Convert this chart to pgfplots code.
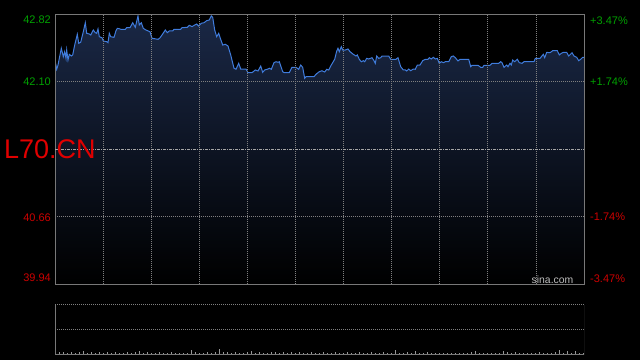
\documentclass[border=0pt]{standalone}
\usepackage{pgfplots}
\pgfplotsset{compat=1.18}
\usepackage{fontspec}
\setmainfont{Liberation Sans}
\definecolor{linecol}{RGB}{64,124,220}
\definecolor{filltop}{RGB}{26,40,70}
\definecolor{gridcol}{RGB}{128,128,128}
\definecolor{midcol}{RGB}{165,165,165}
\definecolor{framecol}{RGB}{120,120,120}
\definecolor{upgreen}{RGB}{0,160,0}
\definecolor{downred}{RGB}{204,0,0}
\definecolor{titlered}{RGB}{224,0,0}
\definecolor{volcol}{RGB}{150,150,150}

\pgfplotstableread{
x y
0 42.329
1.7 42.230
3 42.276
6.3 42.454
8.3 42.365
9.7 42.418
11 42.347
11.7 42.436
13 42.329
14.3 42.390
16.3 42.372
17.7 42.383
19.7 42.489
22.3 42.603
23.7 42.507
25.7 42.518
28.3 42.631
30.3 42.727
31.7 42.614
34.3 42.607
35.7 42.596
38.3 42.649
40.3 42.621
41.7 42.614
43 42.660
44.3 42.578
47 42.567
48.3 42.532
51.7 42.525
53 42.514
54.3 42.614
55.7 42.578
59 42.571
61 42.642
62.3 42.667
64.3 42.663
65.7 42.657
70.3 42.657
71.7 42.674
75 42.674
77.7 42.727
80.3 42.678
83 42.799
84.3 42.703
86.3 42.727
88.3 42.667
91 42.649
95 42.631
97 42.561
103 42.550
105 42.566
107.7 42.607
110.3 42.649
112.3 42.621
114.3 42.639
117.7 42.639
119 42.657
125.7 42.657
127 42.674
132.3 42.678
134.3 42.699
137 42.685
139.7 42.703
141.7 42.713
143.7 42.692
146.3 42.721
149 42.727
151.7 42.749
154.3 42.756
156.3 42.799
157.7 42.785
159.7 42.649
161.7 42.578
163.7 42.614
165 42.571
167.7 42.489
170.3 42.497
173 42.479
175.7 42.383
179 42.241
181 42.230
183.7 42.294
185.7 42.233
191 42.233
193 42.194
197 42.194
200.3 42.223
203 42.212
205.7 42.265
207.7 42.198
209.7 42.223
213 42.233
214.3 42.241
216.3 42.230
219 42.301
221 42.311
223 42.305
224.3 42.311
227.7 42.205
229 42.194
234.3 42.194
237 42.251
241 42.251
243.7 42.230
245.7 42.276
247.7 42.251
249.7 42.134
251 42.151
259 42.151
261 42.177
264.3 42.205
267 42.215
269.7 42.201
271.7 42.230
273.7 42.223
276.3 42.276
279.7 42.337
281.7 42.425
283 42.454
284.3 42.418
286.3 42.471
287.7 42.436
290.3 42.436
293 42.447
295 42.418
298.3 42.390
301 42.372
302.3 42.383
304.3 42.337
306.3 42.311
308.3 42.322
309.7 42.311
311.7 42.347
313.7 42.340
316.3 42.351
317 42.354
319 42.322
320.3 42.294
321.7 42.372
323.7 42.347
325.7 42.354
327 42.372
333.7 42.372
335.7 42.337
341 42.337
343 42.354
345.7 42.258
348.3 42.223
350.3 42.223
351.7 42.212
353.7 42.233
355.7 42.215
358.3 42.233
360.3 42.230
362.3 42.276
365 42.276
367.7 42.322
370.3 42.337
373 42.337
374.3 42.354
376.3 42.340
378.3 42.358
380.3 42.340
382.3 42.347
384.3 42.294
386.3 42.311
388.3 42.301
390.3 42.311
393.7 42.311
396.3 42.365
398.3 42.372
400.3 42.354
403 42.319
405 42.337
413.7 42.337
415.7 42.258
417 42.273
423 42.273
425.7 42.251
427.7 42.251
429 42.273
435 42.273
437 42.294
443.7 42.294
445.7 42.311
447 42.301
449 42.251
451.7 42.276
453 42.258
455 42.294
456.3 42.276
457.7 42.329
459.7 42.311
462.3 42.337
464.3 42.301
467 42.294
469 42.311
479 42.311
480.3 42.347
485 42.347
488.3 42.390
489.7 42.354
491.7 42.411
495 42.407
497.7 42.429
502.3 42.429
504.3 42.383
506.3 42.401
508.3 42.411
511.7 42.411
513.7 42.372
517 42.407
519 42.372
521.7 42.358
523.7 42.322
525.7 42.337
527.7 42.358
529 42.358
}\pricetable

\pgfplotstableread{
x v
0 12
4 5
8 4
12 3
16 4
20 3
24 5
28 7
32 3
36 4
40 3
44 5
48 3
52 4
56 3
60 4
64 3
68 3
72 4
76 3
80 5
84 6
88 3
92 4
96 3
100 3
104 4
108 3
112 3
116 4
120 3
124 3
128 3
132 3
136 8
140 4
144 3
148 3
152 4
156 3
160 4
164 11
168 5
172 4
176 3
180 4
184 3
188 3
192 4
196 7
200 3
204 4
208 3
212 3
216 4
220 5
224 3
228 4
232 3
236 4
240 3
244 4
248 3
252 3
256 4
260 3
264 3
268 4
272 3
276 3
280 4
284 3
288 3
292 4
296 3
300 3
304 4
308 3
312 3
316 4
320 3
324 3
328 4
332 3
336 3
340 8
344 3
348 3
352 4
356 3
360 6
364 3
368 3
372 4
376 3
380 3
384 3
388 3
392 3
396 3
400 3
404 3
408 3
412 3
416 4
420 6
424 3
428 3
432 3
436 3
440 3
444 3
448 6
452 4
456 3
460 4
464 3
468 3
472 3
476 3
480 3
484 4
488 3
492 3
496 3
500 4
504 8
508 3
512 6
516 3
520 6
524 3
528 3
}\voltable

\begin{document}
\begin{tikzpicture}
\fill[black] (0,0) rectangle (640pt,360pt);
\useasboundingbox (0,0) rectangle (640pt,360pt);
\begin{axis}[
  at={(55pt,76pt)}, anchor=south west,
  scale only axis, width=529pt, height=270pt,
  xmin=0, xmax=529, ymin=39.94, ymax=42.82,
  xtick={48.09,96.18,144.27,192.36,240.45,288.55,336.64,384.73,432.82,480.91},
  ytick={40.66,42.10},
  xticklabels={}, yticklabels={},
  extra y ticks={41.38}, extra y tick labels={},
  extra y tick style={ymajorgrids=true, major grid style={midcol, line width=0.8pt, dash pattern=on 3pt off 1pt on 1pt off 1pt}},
  grid=major,
  major grid style={gridcol, line width=0.8pt, dash pattern=on 1pt off 1pt},
  major tick length=0pt,
  axis line style={framecol, line width=1pt},
  axis background/.style={top color=filltop, bottom color=black},
  axis on top,
]
\addplot[fill=black, draw=none, forget plot] table[x=x,y=y] {\pricetable} |- (axis cs:0,42.82) -- cycle;
\addplot[linecol, line width=1pt] table[x=x,y=y] {\pricetable};
\end{axis}

\begin{axis}[
  at={(55pt,6pt)}, anchor=south west,
  scale only axis, width=529pt, height=49.3pt,
  xmin=0, xmax=529, ymin=0, ymax=100,
  xtick=\empty, ytick={50,100}, yticklabels={},
  ymajorgrids,
  major grid style={gridcol, line width=0.8pt, dash pattern=on 1pt off 1pt},
  major tick length=0pt,
  axis line style={draw=none},
]
\addplot[ycomb, volcol, line width=0.8pt, mark=none] table[x=x,y=v] {\voltable};
\draw[framecol, line width=1pt] (rel axis cs:0,1) -- (rel axis cs:0,0) -- (rel axis cs:1,0) -- (rel axis cs:1,1);
\end{axis}

\begin{scope}[every node/.style={inner sep=0pt, font=\fontsize{11}{13}\selectfont}]
\node[anchor=east, text=upgreen] at (51pt,340pt) {42.82};
\node[anchor=east, text=upgreen] at (51pt,278pt) {42.10};
\node[anchor=east, text=downred] at (51pt,142.7pt) {40.66};
\node[anchor=east, text=downred] at (51pt,82pt) {39.94};
\node[anchor=west, text=upgreen] at (590pt,339.3pt) {+3.47\%};
\node[anchor=west, text=upgreen] at (590pt,278.3pt) {+1.74\%};
\node[anchor=west, text=downred] at (590pt,143.3pt) {-1.74\%};
\node[anchor=west, text=downred] at (590pt,81.7pt) {-3.47\%};
\end{scope}
\node[anchor=west, inner sep=0pt, text=titlered, font=\fontsize{27}{30}\selectfont] at (4pt,210.3pt) {L70.CN};
\node[anchor=base east, inner sep=0pt, text={rgb,255:red,190;green,190;blue,190}, font=\fontsize{10.4}{12}\selectfont] at (573.5pt,76.7pt) {sina.com};
\end{tikzpicture}
\end{document}
